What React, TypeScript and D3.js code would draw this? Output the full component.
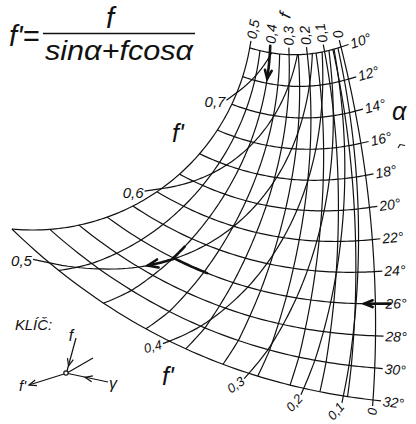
import React from "react";
import * as d3 from "d3";

// Nomogram for f' = f / (sin α + f cos α)
const ALPHA_TICKS = [10, 12, 14, 16, 18, 20, 22, 24, 26, 28, 30, 32];
const F_LINES = [0, 0.05, 0.1, 0.15, 0.2, 0.25, 0.3, 0.35, 0.4, 0.45, 0.5];
const F_LABELS = [0, 0.1, 0.2, 0.3, 0.4, 0.5];
const F_PRIME = [0.1, 0.2, 0.3, 0.4, 0.5, 0.6, 0.7];
const EXAMPLE_ALPHA = 26;
const EXAMPLE_F = 0.4;
const EXAMPLE_FP = 0.5;

const W = 416;
const H = 424;
const A_MIN = 10;
const A_MAX = 32;
const F_MAX = 0.5;
const FONT = "'Liberation Sans', Arial, sans-serif";

const rad = (d: number) => (d * Math.PI) / 180;
const deg = (r: number) => (r * 180) / Math.PI;

// chart geometry: the f = 0 edge, the f = 0.5 edge and the bow of each α arc
const tOfAlpha = d3.scaleLinear().domain([A_MIN, A_MAX]).range([0, 1]);
const zeroEdgeY = d3.scaleLinear().domain([0, 1]).range([47, 400]);
const zeroEdgeX = (t: number) => 341 + 88 * t - 56 * t * t;
const outerEdgeAngle = d3
  .scaleLinear()
  .domain([10, 18, 22, 26, 30, 32])
  .range([9.9, 40.8, 55.7, 70.3, 85.6, 95.5]);
const OUTER_C: [number, number] = [33, 10];
const OUTER_R = 220;
const growth = d3.scaleLinear().domain([A_MIN, A_MAX]).range([0.5, 2.0]);
const bow = d3.scaleLinear().domain([A_MIN, A_MAX]).range([0.08, 0.085]);

type P = [number, number];

function project(alpha: number, f: number): P {
  const t = tOfAlpha(alpha);
  const x0 = zeroEdgeX(t);
  const y0 = zeroEdgeY(t);
  const a = rad(outerEdgeAngle(alpha));
  const x5 = OUTER_C[0] + OUTER_R * Math.cos(a);
  const y5 = OUTER_C[1] + OUTER_R * Math.sin(a);
  const dx = x5 - x0;
  const dy = y5 - y0;
  const k = growth(alpha);
  const u = (Math.exp(k * f) - 1) / (Math.exp(k * F_MAX) - 1);
  const b = bow(alpha) * 4 * u * (1 - u);
  return [x0 + dx * u + dy * b, y0 + dy * u - dx * b];
}

const fFromFp = (fp: number, alpha: number) =>
  (fp * Math.sin(rad(alpha))) / (1 - fp * Math.cos(rad(alpha)));

function alphaEnd(fp: number) {
  const g = (a: number) => fFromFp(fp, a) - F_MAX;
  if (g(A_MAX) <= 0) return A_MAX;
  let lo = A_MIN;
  let hi = A_MAX;
  for (let i = 0; i < 50; i++) {
    const m = (lo + hi) / 2;
    if (g(m) > 0) hi = m;
    else lo = m;
  }
  return lo;
}

const samples = (a: number, b: number, n: number) =>
  d3.range(n + 1).map((i) => a + ((b - a) * i) / n);

// continue from q through p by len
function ext(p: P, q: P, len: number): P {
  const dx = p[0] - q[0];
  const dy = p[1] - q[1];
  const L = Math.hypot(dx, dy);
  return [p[0] + (dx / L) * len, p[1] + (dy / L) * len];
}
const angleOf = (from: P, to: P) =>
  deg(Math.atan2(to[1] - from[1], to[0] - from[0]));

const fmt = (v: number) => String(Math.round(v * 100) / 100).replace(".", ",");

function arrowHead(tip: P, from: P, size = 8, spread = 24) {
  const a = Math.atan2(tip[1] - from[1], tip[0] - from[0]);
  const l: P = [
    tip[0] - size * Math.cos(a - rad(spread)),
    tip[1] - size * Math.sin(a - rad(spread)),
  ];
  const r: P = [
    tip[0] - size * Math.cos(a + rad(spread)),
    tip[1] - size * Math.sin(a + rad(spread)),
  ];
  return `M${l[0]},${l[1]}L${tip[0]},${tip[1]}L${r[0]},${r[1]}`;
}

const line = d3.line<P>();

export default function App() {
  const gridStroke = { stroke: "#111", strokeWidth: 1.2, fill: "none" };
  const labelStyle = {
    fontFamily: FONT,
    fontStyle: "italic" as const,
    fontSize: 14,
    fill: "#111",
  };

  // α arcs
  const alphaMarks = ALPHA_TICKS.map((a) => {
    const pts = samples(0, F_MAX, 60).map((f) => project(a, f));
    const p0 = project(a, 0);
    const q0 = project(a, 0.006);
    const e = ext(p0, q0, 8);
    const lp = ext(p0, q0, 10);
    return {
      a,
      d: line([e, ...pts]) as string,
      lp,
      rot: angleOf(q0, p0),
    };
  });

  // f lines
  const fMarks = F_LINES.map((f) => {
    const pts = samples(A_MIN, A_MAX, 110).map((a) => project(a, f));
    const labelled = F_LABELS.some((v) => Math.abs(v - f) < 1e-9);
    let path = pts;
    let top: { p: P; rot: number } | null = null;
    let bottom: { p: P; rot: number } | null = null;
    if (labelled) {
      const p = project(A_MIN, f);
      const q = project(A_MIN + 0.15, f);
      const e = ext(p, q, 7);
      path = [e, ...path];
      top = { p: ext(p, q, 9), rot: angleOf(q, p) };
    }
    if (f === 0) {
      const p = project(A_MAX, f);
      const q = project(A_MAX - 0.15, f);
      const e = ext(p, q, 6);
      path = [...path, e];
      bottom = { p: ext(p, q, 8), rot: angleOf(e, p) };
    }
    return { f, d: line(path) as string, top, bottom };
  });

  // f' curves
  const fpMarks = F_PRIME.map((fp) => {
    const aEnd = alphaEnd(fp);
    const pts = samples(A_MIN, aEnd, 90).map((a) =>
      project(a, Math.min(F_MAX, fFromFp(fp, a)))
    );
    const p = pts[pts.length - 1];
    const q = project(aEnd - 0.15, fFromFp(fp, aEnd - 0.15));
    const side = fp <= 0.4 ? "bottom" : "left";
    const len = side === "bottom" ? 7 : fp === 0.7 ? 13 : 17;
    const e = ext(p, q, len);
    const lead = angleOf(e, p);
    return {
      fp,
      side,
      d: line([...pts, e]) as string,
      lp: side === "bottom" ? ext(p, q, len + 1.5) : e,
      rot: Math.max(-50, lead * 0.72),
    };
  });

  // worked example
  const ex = project(EXAMPLE_ALPHA, EXAMPLE_F);
  const exF = samples(EXAMPLE_ALPHA - 1.2, EXAMPLE_ALPHA, 12).map((a) =>
    project(a, EXAMPLE_F)
  );
  const exA = samples(EXAMPLE_F - 0.055, EXAMPLE_F, 12).map((f) =>
    project(EXAMPLE_ALPHA, f)
  );
  const exFpEnd = EXAMPLE_ALPHA + 1.5;
  const exFp = samples(EXAMPLE_ALPHA, exFpEnd, 12).map((a) =>
    project(a, fFromFp(EXAMPLE_FP, a))
  );
  const exFpTip = exFp[exFp.length - 1];
  const exFpPrev = exFp[exFp.length - 3];

  // entry arrow on the f scale
  const topF = samples(A_MIN - 0.45, A_MIN + 1.7, 12).map((a) =>
    project(a, EXAMPLE_F)
  );
  // entry arrow on the α scale
  const a0 = project(EXAMPLE_ALPHA, 0);
  const a0q = project(EXAMPLE_ALPHA, 0.006);
  const aStart = ext(a0, a0q, 15);
  const aTip = project(EXAMPLE_ALPHA, 0.028);

  const thick = { stroke: "#111", strokeWidth: 2.6, fill: "none", strokeLinecap: "round" as const };

  return (
    <svg
      width={W}
      height={H}
      viewBox={`0 0 ${W} ${H}`}
      style={{ position: "absolute", left: 0, top: 0, background: "#fff" }}
    >
      <rect width={W} height={H} fill="#fff" />

      {/* formula */}
      <g style={{ fontFamily: FONT, fontStyle: "italic", fill: "#111" }}>
        <text x={9} y={46} fontSize={29}>
          f'=
        </text>
        <text x={110} y={28} fontSize={29} textAnchor="middle">
          f
        </text>
        <line x1={43} y1={33.5} x2={195} y2={33.5} stroke="#111" strokeWidth={1.6} />
        <text x={45} y={60} fontSize={28} textLength={148} lengthAdjust="spacingAndGlyphs">
          sinα+fcosα
        </text>
      </g>

      {/* grid */}
      <g>
        {alphaMarks.map((m) => (
          <path key={`a${m.a}`} d={m.d} {...gridStroke} />
        ))}
        {fMarks.map((m) => (
          <path key={`f${m.f}`} d={m.d} {...gridStroke} />
        ))}
        {fpMarks.map((m) => (
          <path key={`fp${m.fp}`} d={m.d} {...gridStroke} />
        ))}
      </g>

      {/* α labels */}
      {alphaMarks.map((m) => (
        <text
          key={`al${m.a}`}
          transform={`translate(${m.lp[0]},${m.lp[1]}) rotate(${m.rot})`}
          dominantBaseline="central"
          style={labelStyle}
        >
          {`${m.a}°`}
        </text>
      ))}

      {/* f labels */}
      {fMarks.map((m) =>
        m.top ? (
          <text
            key={`ft${m.f}`}
            transform={`translate(${m.top.p[0]},${m.top.p[1]}) rotate(${m.top.rot})`}
            dominantBaseline="central"
            style={labelStyle}
          >
            {fmt(m.f)}
          </text>
        ) : null
      )}
      {fMarks.map((m) =>
        m.bottom ? (
          <text
            key={`fb${m.f}`}
            transform={`translate(${m.bottom.p[0]},${m.bottom.p[1]}) rotate(${m.bottom.rot})`}
            dominantBaseline="central"
            textAnchor="end"
            style={{ ...labelStyle, fontSize: 13 }}
          >
            {fmt(m.f)}
          </text>
        ) : null
      )}

      {/* f' labels */}
      {fpMarks.map((m) =>
        m.side === "bottom" ? (
          <text
            key={`fpl${m.fp}`}
            transform={`translate(${m.lp[0]},${m.lp[1]}) rotate(${m.rot})`}
            dominantBaseline="central"
            textAnchor="end"
            style={{ ...labelStyle, fontSize: 13 }}
          >
            {fmt(m.fp)}
          </text>
        ) : (
          <text
            key={`fpl${m.fp}`}
            x={m.lp[0] - 1}
            y={m.lp[1] + 1}
            dominantBaseline="central"
            textAnchor="end"
            style={{ ...labelStyle, fontSize: 15 }}
          >
            {fmt(m.fp)}
          </text>
        )
      )}

      {/* axis names */}
      <g style={{ fontFamily: FONT, fontStyle: "italic", fill: "#111" }}>
        <text x={392} y={120} fontSize={25}>
          α
        </text>
        <text x={172} y={142} fontSize={25}>
          f'
        </text>
        <text x={162} y={385} fontSize={25}>
          f'
        </text>
        <text transform="translate(290,19) rotate(-75)" fontSize={17}>
          f
        </text>
      </g>
      {/* small tick beside the α scale */}
      <path d="M398,148 L400,144.5 L405,145.5" stroke="#111" strokeWidth={1.1} fill="none" />

      {/* worked example */}
      <path d={line(topF) as string} {...thick} />
      <path d={arrowHead(topF[topF.length - 1], topF[topF.length - 3], 9, 22)} {...thick} />
      <path d={line([aStart, aTip]) as string} {...thick} />
      <path d={arrowHead(aTip, aStart, 9, 22)} {...thick} />
      <path d={line(exF) as string} {...thick} />
      <path d={line(exA) as string} {...thick} />
      <path d={line(exFp) as string} {...thick} />
      <path d={arrowHead(exFpTip, exFpPrev, 11, 22)} {...thick} />
      <circle cx={ex[0]} cy={ex[1]} r={1.2} fill="#111" />

      {/* key */}
      <g style={{ fontFamily: FONT, fontStyle: "italic", fill: "#111" }}>
        <text x={15} y={330} fontSize={14} textLength={37} lengthAdjust="spacingAndGlyphs">
          KLÍČ:
        </text>
        <text x={71} y={341} fontSize={16} textAnchor="middle">
          f
        </text>
        <text x={26} y={391} fontSize={15} textAnchor="end">
          f'
        </text>
        <text x={113} y={389} fontSize={16} textAnchor="middle">
          γ
        </text>
      </g>
      <g stroke="#111" strokeWidth={1.2} fill="none">
        <line x1={76} y1={338} x2={67} y2={371} />
        <path d={arrowHead([68.5, 366], [76, 338], 8, 22)} />
        <line x1={67} y1={373} x2={93} y2={358} />
        <line x1={64} y1={374} x2={29} y2={385} />
        <path d={arrowHead([29, 385], [64, 374], 8, 22)} />
        <line x1={108} y1={382} x2={68} y2={373.5} />
        <path d={arrowHead([85, 377.3], [108, 382], 8, 22)} />
        <circle cx={66} cy={373} r={2.2} fill="#fff" />
      </g>
    </svg>
  );
}
